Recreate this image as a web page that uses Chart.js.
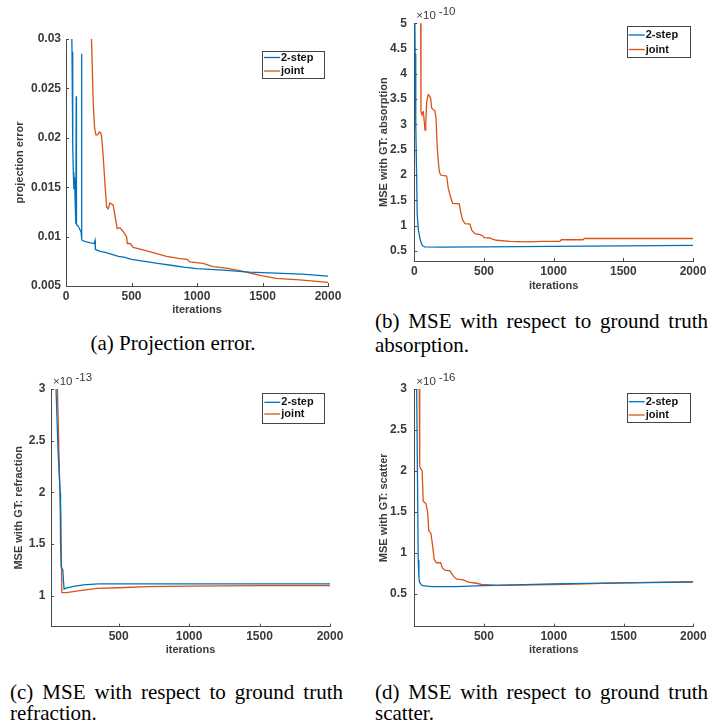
<!DOCTYPE html>
<html><head><meta charset="utf-8">
<script src="https://cdn.jsdelivr.net/npm/chart.js@4.4.1/dist/chart.umd.min.js"></script>
<style>
html,body{margin:0;padding:0;background:#fff;width:710px;height:721px;overflow:hidden;position:relative}
canvas{position:absolute}
.cap{position:absolute;font-family:"Liberation Serif","Times New Roman",serif;font-size:21px;line-height:24px;color:#000;text-align:justify;text-align-last:left}
</style></head><body>
<canvas id="ca" width="355" height="325" style="left:0;top:0"></canvas>
<canvas id="cb" width="355" height="300" style="left:355px;top:0"></canvas>
<canvas id="cc" width="355" height="300" style="left:0;top:370px"></canvas>
<canvas id="cd" width="355" height="300" style="left:355px;top:370px"></canvas>
<div class="cap" style="left:0;top:331px;width:346px;text-align:center;text-align-last:center">(a) Projection error.</div>
<div class="cap" style="left:375px;top:309px;width:333px">(b) MSE with respect to ground truth absorption.</div>
<div class="cap" style="left:10px;top:682px;width:333px;line-height:21px">(c) MSE with respect to ground truth refraction.</div>
<div class="cap" style="left:375px;top:682px;width:333px;line-height:21px">(d) MSE with respect to ground truth scatter.</div>
<script>
// ---------- DATA ----------
const seriesNames = ['2-step', 'joint'];

// (a) projection error
const projIters2 = [40, 46, 50, 53, 56, 60, 65, 70, 74, 76, 78, 80, 90, 100, 110, 115, 119, 121, 125, 150, 180, 215, 222, 224, 260, 300, 350, 400, 450, 500, 600, 700, 800, 900, 1000, 1200, 1400, 1600, 1800, 2000];
const projVals2  = [0.034, 0.0287, 0.0242, 0.019, 0.0165, 0.0148, 0.016, 0.0135, 0.0118, 0.0113, 0.0242, 0.0112, 0.0111, 0.0109, 0.0106, 0.0105, 0.0285, 0.0097, 0.0096, 0.0095, 0.0094, 0.0093, 0.0096, 0.0087, 0.0085, 0.0084, 0.0082, 0.008, 0.0079, 0.0077, 0.0075, 0.0073, 0.0071, 0.0069, 0.00675, 0.0066, 0.0064, 0.0063, 0.0062, 0.006];
const projItersJ = [193, 200, 208, 218, 228, 240, 255, 265, 272, 284, 297, 310, 322, 335, 360, 373, 391, 411, 437, 462, 468, 490, 513, 589, 665, 767, 860, 925, 945, 1046, 1122, 1224, 1325, 1414, 1490, 1605, 1782, 2000];
const projValsJ  = [0.0305, 0.0275, 0.0235, 0.021, 0.0203, 0.0203, 0.0206, 0.0205, 0.0201, 0.0181, 0.0154, 0.013, 0.0128, 0.0134, 0.0132, 0.0122, 0.0108, 0.0109, 0.0105, 0.01, 0.0093, 0.0093, 0.0089, 0.00865, 0.00837, 0.008, 0.0078, 0.0077, 0.00743, 0.0073, 0.00696, 0.0068, 0.00655, 0.00629, 0.00604, 0.00578, 0.00561, 0.00537];
const projYTicks = [0.005, 0.01, 0.015, 0.02, 0.025, 0.03];
const projYLabels = ['0.005', '0.01', '0.015', '0.02', '0.025', '0.03'];

// (b) absorption (x 1e-10)
const absIters2 = [3, 6, 9, 12, 16, 21, 30, 41, 50, 60, 75, 200, 500, 1000, 1500, 2000];
const absVals2  = [5.3, 4.4, 3.6, 3.0, 2.1, 1.21, 0.9, 0.745, 0.65, 0.6, 0.58, 0.575, 0.58, 0.59, 0.6, 0.61];
const absItersJ = [40, 46, 48, 55, 60, 65, 70, 77, 82, 89, 100, 110, 117, 125, 148, 156, 165, 173, 180, 189, 232, 244, 263, 275, 323, 333, 347, 364, 400, 412, 435, 471, 490, 500, 543, 560, 591, 687, 806, 925, 1045, 1055, 1210, 1220, 2000];
const absValsJ  = [5.6, 5.0, 3.25, 3.19, 3.24, 3.25, 3.1, 2.89, 3.0, 3.45, 3.59, 3.56, 3.52, 3.32, 3.27, 3.12, 2.53, 2.25, 2.06, 2.0, 1.98, 1.73, 1.54, 1.44, 1.43, 1.27, 1.11, 1.04, 1.03, 0.91, 0.84, 0.82, 0.8, 0.76, 0.755, 0.73, 0.71, 0.69, 0.68, 0.69, 0.69, 0.72, 0.72, 0.745, 0.745];
const absYTicks = [0.5, 1, 1.5, 2, 2.5, 3, 3.5, 4, 4.5, 5];
const absYLabels = ['0.5', '1', '1.5', '2', '2.5', '3', '3.5', '4', '4.5', '5'];

// (c) refraction (x 1e-13)
const refIters2 = [48, 56, 70, 85, 88, 92, 104, 108, 113, 133, 180, 250, 300, 360, 1000, 2000];
const refVals2  = [3.3, 2.99, 2.4, 1.99, 1.5, 1.28, 1.25, 1.15, 1.065, 1.075, 1.09, 1.105, 1.11, 1.115, 1.115, 1.115];
const refItersJ = [58, 66, 80, 90, 97, 130, 200, 346, 500, 700, 1000, 1500, 2000];
const refValsJ  = [3.3, 2.99, 2.18, 1.73, 1.03, 1.03, 1.045, 1.07, 1.077, 1.087, 1.093, 1.097, 1.098];
const refYTicks = [1, 1.5, 2, 2.5, 3];
const refYLabels = ['1', '1.5', '2', '2.5', '3'];

// (d) scatter (x 1e-16)
const scaIters2 = [8, 18, 24, 29, 34, 39, 58, 125, 300, 500, 1000, 1500, 2000];
const scaVals2  = [3.5, 3.0, 1.89, 0.91, 0.7, 0.64, 0.6, 0.59, 0.59, 0.602, 0.622, 0.635, 0.643];
const scaItersJ = [35, 39, 41, 57, 65, 85, 97, 105, 120, 132, 144, 160, 190, 201, 220, 256, 280, 304, 352, 388, 447, 483, 600, 1000, 1500, 2000];
const scaValsJ  = [3.4, 2.99, 2.05, 2.0, 1.63, 1.6, 1.49, 1.27, 1.24, 1.09, 0.92, 0.88, 0.88, 0.82, 0.79, 0.78, 0.72, 0.68, 0.67, 0.645, 0.63, 0.615, 0.605, 0.615, 0.635, 0.65];
const scaYTicks = [0.5, 1, 1.5, 2, 2.5, 3];
const scaYLabels = ['0.5', '1', '1.5', '2', '2.5', '3'];

const xTicksFull = [0, 500, 1000, 1500, 2000];
const xTicksNoZero = [500, 1000, 1500, 2000];
const xLabel = 'iterations';

// ---------- STYLE ----------
const BLUE = '#0072BD', ORANGE = '#D95319';
const AXIS = '#4a4a4a', TXT = '#3a3a3a';
const SANS = '"Liberation Sans", Arial, Helvetica, sans-serif';

const decor = {
  id: 'decor',
  afterDatasetsDraw(chart, args, o) {
    const ctx = chart.ctx, ca = chart.chartArea;
    const xs = chart.scales.x, ys = chart.scales.y;
    ctx.save();
    ctx.strokeStyle = AXIS; ctx.lineWidth = 1;
    xs.ticks.forEach(t => {
      const px = Math.round(xs.getPixelForValue(t.value)) + 0.5;
      ctx.beginPath(); ctx.moveTo(px, ca.bottom); ctx.lineTo(px, ca.bottom - 3); ctx.stroke();
    });
    ys.ticks.forEach(t => {
      const py = Math.round(ys.getPixelForValue(t.value)) + 0.5;
      ctx.beginPath(); ctx.moveTo(ca.left, py); ctx.lineTo(ca.left + 3, py); ctx.stroke();
    });
    if (o.exp) {
      ctx.fillStyle = TXT; ctx.font = '11.5px ' + SANS; ctx.textBaseline = 'middle'; ctx.textAlign = 'left';
      const x0 = ca.left + 2, y0 = ca.top - 7;
      ctx.fillText('\u00d710', x0, y0);
      const w = ctx.measureText('\u00d710').width;
      ctx.fillText(o.exp, x0 + w + 3, y0 - 4);
    }
    const L = o.legend;
    if (L) {
      ctx.fillStyle = '#fff'; ctx.fillRect(L.x, L.y, L.w, L.h);
      ctx.strokeStyle = '#444'; ctx.lineWidth = 1;
      ctx.strokeRect(Math.round(L.x) + 0.5, Math.round(L.y) + 0.5, Math.round(L.w), Math.round(L.h));
      ctx.font = 'bold 11px ' + SANS; ctx.textBaseline = 'middle'; ctx.textAlign = 'left';
      chart.data.datasets.forEach((d, i) => {
        const ry = L.rows[i];
        ctx.strokeStyle = d.borderColor; ctx.lineWidth = 1.3;
        ctx.beginPath(); ctx.moveTo(L.x + 2, ry); ctx.lineTo(L.x + 18, ry); ctx.stroke();
        ctx.fillStyle = '#111'; ctx.fillText(d.label, L.x + 19, ry);
      });
    }
    ctx.restore();
  }
};

function pts(xs, ys) { return xs.map((x, i) => ({ x: x, y: ys[i] })); }

function makeChart(id, c) {
  const cv = document.getElementById(id);
  const W = cv.width, H = cv.height;
  new Chart(cv, {
    type: 'line',
    data: {
      datasets: [
        { label: seriesNames[0], data: pts(c.x2, c.y2), borderColor: BLUE, borderWidth: 1.3, pointRadius: 0, tension: 0, fill: false },
        { label: seriesNames[1], data: pts(c.xj, c.yj), borderColor: ORANGE, borderWidth: 1.3, pointRadius: 0, tension: 0, fill: false }
      ]
    },
    options: {
      responsive: false, maintainAspectRatio: false, animation: false,
      layout: { padding: { left: 0, top: c.T, right: W - c.R, bottom: 0 } },
      plugins: { legend: { display: false }, tooltip: { enabled: false }, decor: { exp: c.exp, legend: c.legend } },
      scales: {
        x: {
          type: 'linear', min: c.xmin, max: 2000,
          afterBuildTicks: s => { s.ticks = c.xt.map(v => ({ value: v })); },
          afterFit: s => { s.height = H - c.B; },
          grid: { display: true, drawOnChartArea: false, drawTicks: false },
          border: { display: true, color: AXIS, width: 1 },
          ticks: { padding: 3, color: TXT, font: { family: SANS, size: 12, weight: 'bold' }, maxRotation: 0, autoSkip: false,
                   callback: v => String(v) },
          title: { display: true, text: xLabel, color: TXT, font: { family: SANS, size: 11, weight: 'bold' }, padding: { top: 0, bottom: H - c.xty - 6.6 } }
        },
        y: {
          type: 'linear', min: c.ymin, max: c.ymax,
          afterBuildTicks: s => { s.ticks = c.yt.map(v => ({ value: v })); },
          afterFit: s => { s.width = c.L; },
          grid: { display: true, drawOnChartArea: false, drawTicks: false },
          border: { display: true, color: AXIS, width: 1 },
          ticks: { padding: c.yp, color: TXT, font: { family: SANS, size: 12, weight: 'bold' }, autoSkip: false,
                   callback: (v, i) => c.yl[i] },
          title: { display: true, text: c.ytitle, color: TXT, font: { family: SANS, size: 11, weight: 'bold' }, padding: { top: c.ytx - 6.6, bottom: 0 } }
        }
      }
    },
    plugins: [decor]
  });
}

makeChart('ca', { x2: projIters2, y2: projVals2, xj: projItersJ, yj: projValsJ, xmin: 0, xt: xTicksFull,
  ymin: 0.005, ymax: 0.03, yt: projYTicks, yl: projYLabels, ytitle: 'projection error',
  L: 66, T: 39, R: 328, B: 286, yp: 5, ytx: 20, xty: 310,
  legend: { x: 262, y: 51, w: 62, h: 27, rows: [57.5, 71] } });

makeChart('cb', { x2: absIters2, y2: absVals2, xj: absItersJ, yj: absValsJ, xmin: 0, xt: xTicksFull,
  ymin: 0.3, ymax: 5, yt: absYTicks, yl: absYLabels, ytitle: 'MSE with GT: absorption',
  L: 59.3, T: 23.3, R: 338, B: 261, yp: 7.5, ytx: 29, xty: 285.7, exp: '-10',
  legend: { x: 271.7, y: 26, w: 62.6, h: 30.7, rows: [35, 49.5] } });

makeChart('cc', { x2: refIters2, y2: refVals2, xj: refItersJ, yj: refValsJ, xmin: 20, xt: xTicksNoZero,
  ymin: 0.7, ymax: 3, yt: refYTicks, yl: refYLabels, ytitle: 'MSE with GT: refraction',
  L: 51, T: 19, R: 330, B: 256.7, yp: 5.5, ytx: 19, xty: 280, exp: '-13',
  legend: { x: 262.3, y: 22.7, w: 61.7, h: 29.6, rows: [32.3, 44] } });

makeChart('cd', { x2: scaIters2, y2: scaVals2, xj: scaItersJ, yj: scaValsJ, xmin: 1, xt: xTicksNoZero,
  ymin: 0.1, ymax: 3, yt: scaYTicks, yl: scaYLabels, ytitle: 'MSE with GT: scatter',
  L: 59.3, T: 19, R: 338.3, B: 256.7, yp: 7.5, ytx: 29, xty: 280, exp: '-16',
  legend: { x: 271.7, y: 23.3, w: 62.6, h: 29.4, rows: [31.7, 45] } });
</script>
</body></html>
